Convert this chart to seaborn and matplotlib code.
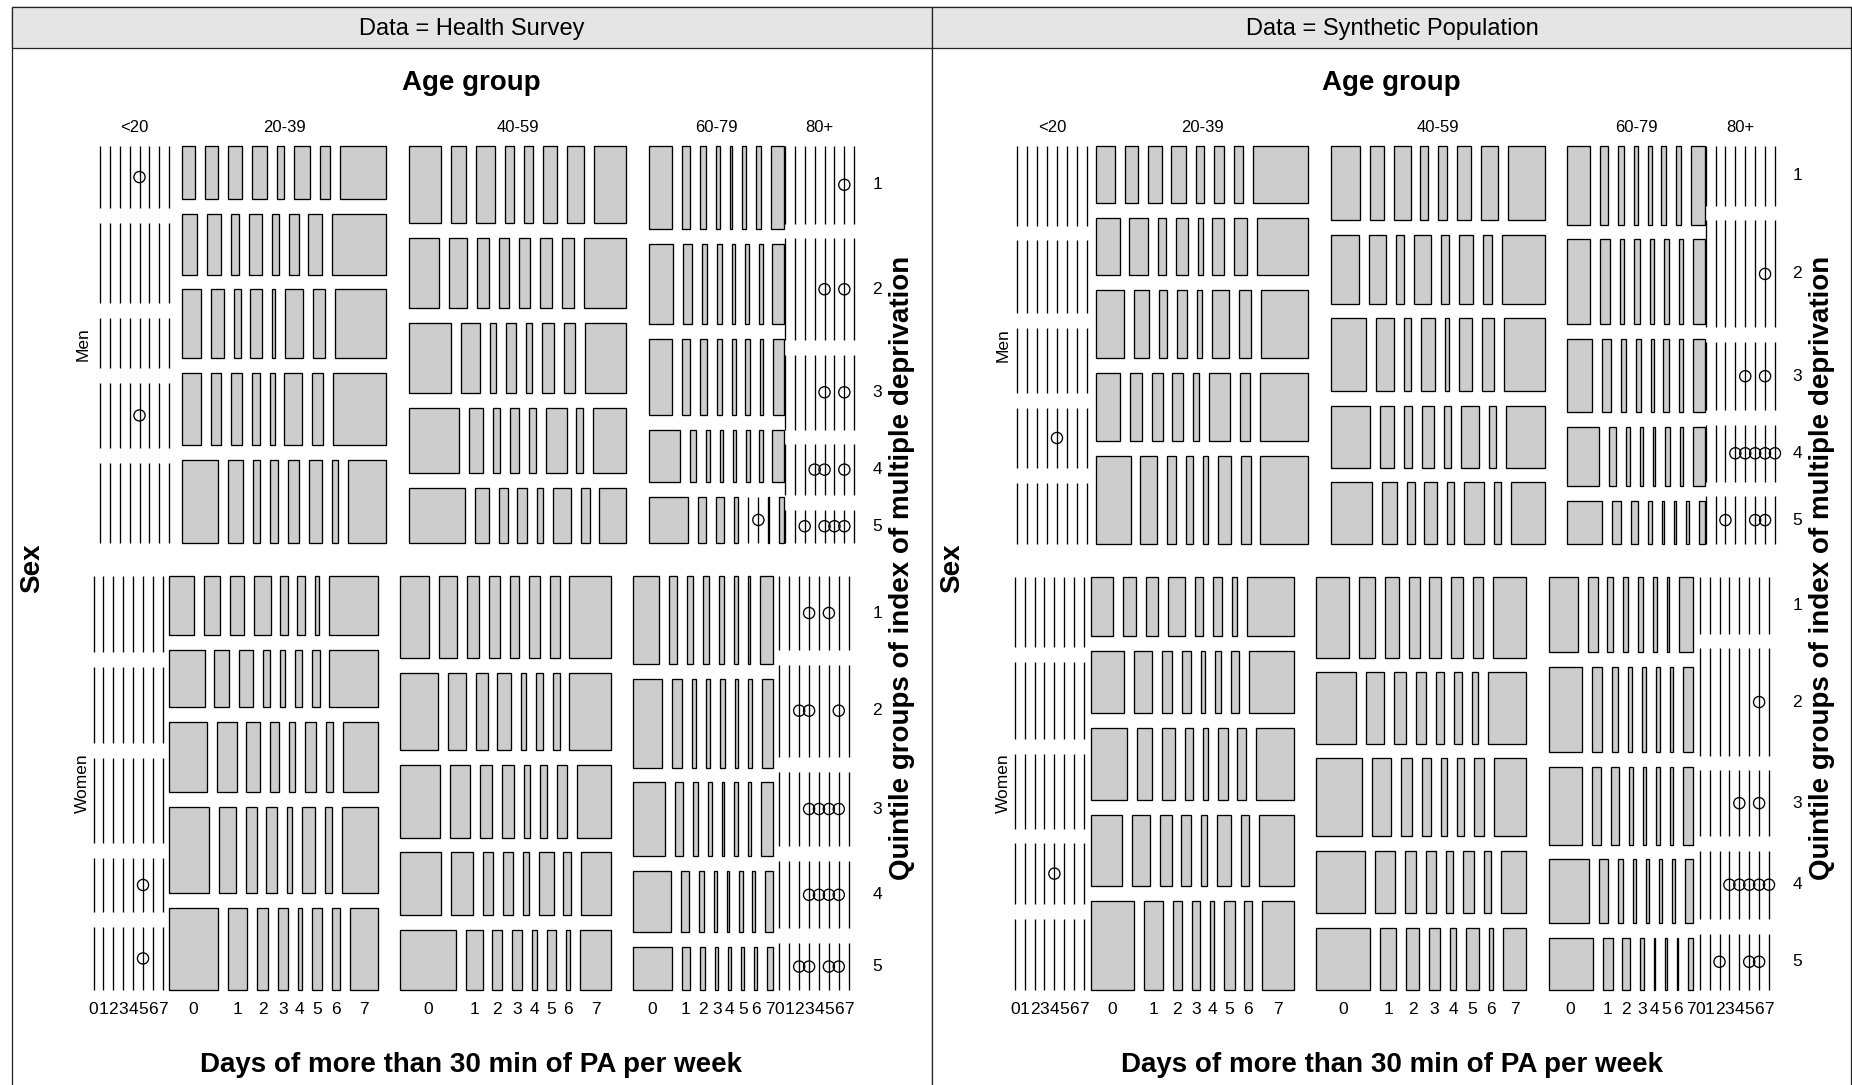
import numpy as np
import matplotlib
matplotlib.use("Agg")
import matplotlib.pyplot as plt
from matplotlib.patches import Rectangle, Circle
import seaborn as sns

sns.set_theme(style="white")
plt.rcParams["font.family"] = ["Liberation Sans", "DejaVu Sans"]
plt.rcParams["text.color"] = "black"

# categories
sexes = ["Men", "Women"]
ages = ["<20", "20-39", "40-59", "60-79", "80+"]
quintiles = ["1", "2", "3", "4", "5"]
days = ["0", "1", "2", "3", "4", "5", "6", "7"]
panels = ["Data = Health Survey", "Data = Synthetic Population"]

# relative sizes (sex, then age within sex,
# then quintile within sex x age, then days within each cell; 0 = empty cell)
hs_sex = [397, 414]
hs_age_men = [50, 206, 219, 136, 27]
hs_age_women = [37, 209, 211, 140, 38]
hs_imd_men = [[187, 242, 150, 195, 241], [160, 181, 205, 218, 248], [234, 210, 212, 198, 165],
              [252, 242, 229, 158, 138], [234, 307, 225, 152, 100]]
hs_imd_women = [[228, 230, 256, 163, 190], [175, 172, 208, 258, 245], [246, 233, 218, 189, 180],
                [265, 267, 221, 185, 130], [223, 279, 227, 203, 142]]
hs_days_men = [
    [[1, 1, 1, 1, 0, 1, 1, 1], [1, 1, 1, 1, 1, 1, 1, 1], [1, 1, 1, 1, 1, 1, 1, 1],
     [1, 1, 1, 1, 0, 1, 1, 1], [1, 1, 1, 1, 1, 1, 1, 1]],
    [[43, 39, 46, 46, 22, 51, 31, 146], [47, 44, 25, 43, 22, 29, 42, 170], [61, 39, 22, 37, 10, 55, 38, 161],
     [59, 34, 32, 28, 13, 55, 34, 167], [114, 46, 23, 25, 34, 40, 21, 119]],
    [[33, 15, 19, 9, 10, 14, 17, 33], [30, 19, 12, 10, 11, 12, 12, 43], [44, 19, 7, 10, 6, 13, 11, 43],
     [52, 14, 7, 10, 7, 21, 7, 34], [58, 15, 9, 10, 6, 19, 9, 28]],
    [[75, 27, 18, 13, 8, 13, 16, 42], [80, 28, 17, 18, 10, 13, 11, 37], [77, 28, 23, 18, 11, 14, 13, 35],
     [100, 22, 12, 11, 10, 11, 10, 37], [125, 26, 24, 12, 3, 0, 3, 15]],
    [[1, 1, 1, 1, 1, 1, 0, 1], [1, 1, 1, 1, 0, 1, 0, 1], [1, 1, 1, 1, 0, 1, 0, 1],
     [1, 1, 1, 0, 0, 1, 0, 1], [1, 1, 0, 1, 0, 0, 0, 1]],
]
hs_days_women = [
    [[1, 1, 1, 1, 1, 1, 1, 1], [1, 1, 1, 1, 1, 1, 1, 1], [1, 1, 1, 1, 1, 1, 1, 1],
     [1, 1, 1, 1, 1, 0, 1, 1], [1, 1, 1, 1, 1, 0, 1, 1]],
    [[79, 50, 43, 52, 22, 23, 13, 152], [111, 46, 43, 22, 15, 23, 24, 150], [121, 61, 44, 27, 19, 35, 23, 110],
     [125, 52, 33, 32, 18, 40, 20, 112], [153, 57, 36, 31, 11, 33, 25, 85]],
    [[30, 18, 12, 12, 9, 11, 10, 42], [39, 18, 12, 14, 5, 7, 7, 42], [42, 21, 13, 13, 6, 8, 10, 36],
     [42, 22, 11, 10, 6, 15, 8, 30], [57, 17, 10, 10, 5, 10, 4, 31]],
    [[84, 27, 19, 18, 18, 13, 8, 40], [92, 30, 13, 13, 15, 10, 12, 35], [102, 23, 17, 12, 7, 14, 9, 37],
     [122, 25, 15, 10, 7, 12, 8, 25], [124, 25, 18, 10, 10, 10, 8, 19]],
    [[1, 1, 1, 0, 1, 0, 1, 1], [1, 1, 0, 0, 1, 1, 0, 1], [1, 1, 1, 0, 0, 0, 0, 1],
     [1, 1, 1, 0, 0, 0, 0, 1], [1, 1, 0, 0, 1, 0, 0, 1]],
]

sp_sex = [398, 413]
sp_age_men = [44, 212, 214, 138, 26]
sp_age_women = [39, 203, 211, 145, 38]
sp_imd_men = [[240, 220, 195, 183, 183], [172, 172, 204, 203, 265], [222, 208, 219, 185, 185],
              [237, 255, 222, 177, 130], [180, 323, 205, 171, 143]]
sp_imd_women = [[210, 233, 225, 182, 215], [178, 187, 217, 213, 268], [241, 213, 233, 187, 185],
                [225, 257, 235, 191, 158], [170, 323, 197, 205, 170]]
sp_days_men = [
    [[1, 1, 1, 1, 1, 1, 1, 1], [1, 1, 1, 1, 1, 1, 1, 1], [1, 1, 1, 1, 1, 1, 1, 1],
     [1, 1, 1, 1, 0, 1, 1, 1], [1, 1, 1, 1, 1, 1, 1, 1]],
    [[58, 38, 42, 45, 23, 32, 28, 167], [72, 56, 27, 36, 15, 37, 38, 160], [86, 44, 26, 32, 14, 53, 38, 144],
     [72, 38, 32, 33, 19, 64, 29, 149], [105, 52, 26, 23, 16, 40, 29, 147]],
    [[30, 14, 17, 8, 9, 14, 18, 37], [30, 18, 9, 18, 9, 15, 10, 45], [37, 18, 8, 14, 5, 13, 13, 42],
     [40, 14, 9, 12, 7, 18, 8, 39], [43, 15, 8, 13, 7, 21, 7, 35]],
    [[77, 25, 20, 13, 13, 15, 18, 45], [75, 32, 14, 20, 13, 16, 14, 38], [80, 29, 18, 16, 8, 18, 12, 40],
     [102, 23, 12, 10, 8, 15, 10, 38], [112, 28, 23, 12, 6, 8, 8, 20]],
    [[1, 1, 1, 1, 1, 1, 1, 1], [1, 1, 1, 1, 1, 1, 0, 1], [1, 1, 1, 1, 0, 1, 0, 1],
     [1, 1, 1, 0, 0, 0, 0, 0], [1, 1, 0, 1, 1, 0, 0, 1]],
]
sp_days_women = [
    [[1, 1, 1, 1, 1, 1, 1, 1], [1, 1, 1, 1, 1, 1, 1, 1], [1, 1, 1, 1, 1, 1, 1, 1],
     [1, 1, 1, 1, 0, 1, 1, 1], [1, 1, 1, 1, 1, 1, 1, 1]],
    [[66, 40, 37, 54, 23, 28, 17, 142], [98, 55, 31, 28, 12, 20, 22, 136], [110, 49, 38, 27, 16, 29, 27, 116],
     [94, 57, 36, 30, 19, 42, 27, 106], [131, 58, 28, 25, 14, 31, 23, 97]],
    [[34, 17, 14, 11, 12, 12, 11, 34], [41, 18, 12, 11, 8, 8, 6, 39], [47, 19, 11, 10, 6, 7, 10, 33],
     [52, 21, 11, 11, 7, 12, 7, 27], [56, 17, 13, 12, 6, 14, 4, 24]],
    [[93, 29, 17, 16, 15, 14, 8, 43], [108, 33, 17, 15, 13, 12, 10, 33], [108, 30, 25, 15, 10, 13, 10, 32],
     [132, 30, 15, 10, 10, 10, 10, 27], [138, 31, 23, 12, 6, 5, 5, 15]],
    [[1, 1, 1, 1, 1, 1, 1, 1], [1, 1, 1, 1, 1, 1, 0, 1], [1, 1, 1, 1, 0, 1, 0, 1],
     [1, 1, 1, 0, 0, 0, 0, 0], [1, 1, 0, 1, 1, 0, 0, 1]],
]

FILL = "#cdcdcd"
LW = 0.95
GAP_DAY = 9.9
GAP_IMD = GAP_DAY * 1.5
GAP_AGE = GAP_IMD * 1.5
GAP_SEX = GAP_AGE * 1.5


def split(start, extent, weights, gap):
    # like grid layout: fixed gaps, tiles share what is left, centred if nothing is left
    w = np.asarray(weights, dtype=float)
    avail = extent - (len(w) - 1) * gap
    if avail > 0 and w.sum() > 0:
        sizes = w / w.sum() * avail
    else:
        sizes = np.zeros(len(w))
        start = start + avail / 2.0
    pos = start + np.concatenate([[0.0], np.cumsum(sizes + gap)[:-1]])
    return pos, sizes


def draw_panel(ax, x0, title, sex_w, age_w, imd_w, day_w):
    pw = 920.3
    ax.add_patch(Rectangle((x0, 7.3), pw, 1200, fc="white", ec="#222222", lw=0.9, zorder=0))
    ax.add_patch(Rectangle((x0, 7.3), pw, 40.4, fc="#e5e5e5", ec="#222222", lw=0.9, zorder=1))
    ax.text(x0 + pw / 2, 28.5, title, ha="center", va="center", fontsize=17)

    L, W, top, H = x0 + 98.0, 723.3, 146.0, 844.0
    ax.text(L + W / 2, 83, "Age group", ha="center", va="center", fontsize=20, fontweight="bold")
    ax.text(L + W / 2, 1065, "Days of more than 30 min of PA per week", ha="center", va="center",
            fontsize=20, fontweight="bold")
    ax.text(L - 78, top + H / 2, "Sex", ha="center", va="center", rotation=90,
            fontsize=20, fontweight="bold")
    ax.text(L + W + 69, top + H / 2, "Quintile groups of index of multiple deprivation",
            ha="center", va="center", rotation=90, fontsize=20, fontweight="bold")

    sy, sh = split(top, H, sex_w, GAP_SEX)
    for s in range(len(sexes)):
        ax.text(L - 27, sy[s] + sh[s] / 2, sexes[s], ha="center", va="center", rotation=90, fontsize=12.5)
        cx, cw = split(L, W, age_w[s], GAP_AGE)
        for a in range(len(ages)):
            if s == 0:
                ax.text(cx[a] + cw[a] / 2, 127, ages[a], ha="center", va="center", fontsize=12)
            qy, qh = split(sy[s], sh[s], imd_w[s][a], GAP_IMD)
            for q in range(len(quintiles)):
                vals = day_w[s][a][q]
                dx, dw = split(cx[a], cw[a], vals, GAP_DAY)
                for d in range(len(days)):
                    ax.add_patch(Rectangle((dx[d], qy[q]), dw[d], qh[q], fc=FILL, ec="black", lw=LW))
                    if vals[d] == 0:
                        ax.add_patch(Circle((dx[d] + dw[d] / 2, qy[q] + qh[q] / 2), 5.6,
                                            fc="none", ec="black", lw=LW))
                    if s == len(sexes) - 1 and q == len(quintiles) - 1:
                        ax.text(dx[d] + dw[d] / 2, 1010, days[d], ha="center", va="center", fontsize=12.5)
                if a == len(ages) - 1:
                    ax.text(L + W + 44, qy[q] + qh[q] / 2, quintiles[q], ha="center", va="center",
                            fontsize=12.5)


fig = plt.figure(figsize=(18.52, 10.85), dpi=100)
ax = fig.add_axes([0, 0, 1, 1])
ax.set_xlim(0, 1852)
ax.set_ylim(1085, 0)
ax.axis("off")

draw_panel(ax, 11.7, panels[0], hs_sex, [hs_age_men, hs_age_women],
           [hs_imd_men, hs_imd_women], [hs_days_men, hs_days_women])
draw_panel(ax, 932.0, panels[1], sp_sex, [sp_age_men, sp_age_women],
           [sp_imd_men, sp_imd_women], [sp_days_men, sp_days_women])
ax.plot([1851, 1851], [7.3, 1085], color="#222222", lw=0.9)

fig.savefig("out.png", dpi=100)
